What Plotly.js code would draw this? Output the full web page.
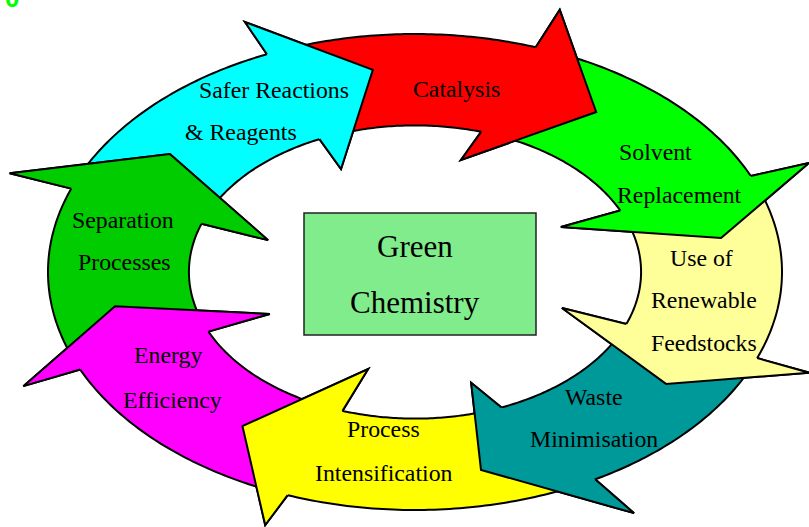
<!DOCTYPE html>
<html>
<head>
<meta charset="utf-8">
<script src="https://cdn.plot.ly/plotly-3.0.1.min.js"></script>
<style>html,body{margin:0;padding:0;background:#fff;}#chart{width:809px;height:527px;}</style>
</head>
<body>
<div id="chart"></div>
<script>
// ---- content ----
const steps = ["Safer Reactions & Reagents", "Catalysis", "Solvent Replacement", "Use of Renewable Feedstocks",
               "Waste Minimisation", "Process Intensification", "Energy Efficiency", "Separation Processes"];
const stepLines = [["Safer Reactions", "& Reagents"], ["Catalysis"], ["Solvent", "Replacement"],
                   ["Use of", "Renewable", "Feedstocks"], ["Waste", "Minimisation"],
                   ["Process", "Intensification"], ["Energy", "Efficiency"], ["Separation", "Processes"]];
const centreLines = ["Green", "Chemistry"];
const colours = ["#00FFFF", "#FF0000", "#00FF00", "#FFFF99", "#009999", "#FFFF00", "#FF00FF", "#00CC00"];

// ---- geometry of the cycle (angles in degrees, clockwise from 12 o'clock) ----
const baseOutA = [336.2, 19.2, 66.2, 111.2, 150.6, 200.3, 245.8, 290.5];
const baseInA  = [335.0, 17.0, 65.2, 110.8, 157.5, 198.7, 246.0, 289.2];
const barbOutA = [336.2, 19.7, 66.9, 111.5, 149.5, 201.0, 245.8, 290.6];
const barbInA  = [335.0, 14.9, 64.6, 110.7, 161.8, 197.4, 246.0, 288.5];
const tipA     = [352.3, 36.3, 80.3, 124.5, 167.8, 216.0, 260.0, 306.6];
const barbOutS = [1.148, 1.17, 1.167, 1.155, 1.176, 1.139, 1.17, 1.18];
const barbInS  = [0.477, 0.487, 0.44, 0.428, 0.49, 0.427, 0.433, 0.422];
const tipS     = [0.857, 0.834, 0.846, 0.83, 0.851, 0.80, 0.83, 0.832];

const CX = 415, CY = 272, RX = 367, RY = 238, INNER = 0.616;

// label line positions (centre x, middle y)
const lineX = [[274, 241], [456], [655, 679], [701, 704, 704], [594, 594], [383, 384], [168, 172], [123, 124]];
const lineY = [[90, 132], [89], [152, 195], [258, 300, 343], [397, 439], [429, 473], [355, 400], [220, 262]];

function pt(t, s) {
  const r = t * Math.PI / 180;
  return [CX + RX * s * Math.sin(r), CY - RY * s * Math.cos(r)];
}
function P(p) { return p[0].toFixed(2) + "," + p[1].toFixed(2); }

const shapes = [];
const heads = [];
const n = steps.length;
for (let i = 0; i < n; i++) {
  const prev = (i + n - 1) % n;
  let sOut = baseOutA[prev] + 1.5, sIn = baseInA[prev] + 1.5;
  if (sOut > baseOutA[i]) sOut -= 360;
  if (sIn > baseInA[i]) sIn -= 360;
  let d = "M" + P(pt(sOut, 1));
  const N = 60;
  for (let k = 1; k <= N; k++) d += " L" + P(pt(sOut + (baseOutA[i] - sOut) * k / N, 1));
  let h = "M" + P(pt(baseOutA[i], 1));
  const headPart = " L" + P(pt(barbOutA[i], barbOutS[i])) +
                   " L" + P(pt(tipA[i], tipS[i])) +
                   " L" + P(pt(barbInA[i], barbInS[i])) +
                   " L" + P(pt(baseInA[i], INNER));
  d += headPart;
  h += headPart;
  for (let k = 1; k <= N; k++) d += " L" + P(pt(baseInA[i] + (sIn - baseInA[i]) * k / N, INNER));
  d += " Z";
  shapes.push({type: "path", xref: "x", yref: "y", path: d, fillcolor: colours[i],
               line: {color: "#000", width: 2}, layer: "above"});
  heads.push({type: "path", xref: "x", yref: "y", path: h, fillcolor: colours[i],
              line: {color: "#000", width: 2}, layer: "above"});
}
// centre box
shapes.push({type: "rect", xref: "x", yref: "y", x0: 304, x1: 536, y0: 213, y1: 335,
             fillcolor: "rgb(128,236,140)", line: {color: "#222", width: 1.5}, layer: "above"});
const allShapes = shapes.concat(heads);

const font = {family: "'Liberation Serif', 'Times New Roman', serif", size: 23.8, color: "#000"};
const annotations = [];
for (let i = 0; i < n; i++) {
  stepLines[i].forEach((txt, j) => {
    annotations.push({x: lineX[i][j], y: lineY[i][j], xref: "x", yref: "y", text: txt,
                      showarrow: false, xanchor: "center", yanchor: "middle", font: font});
  });
}
const centreY = [246.5, 302.5];
centreLines.forEach((txt, j) => {
  annotations.push({x: 415, y: centreY[j], xref: "x", yref: "y", text: txt, showarrow: false,
                    xanchor: "center", yanchor: "middle",
                    font: {family: font.family, size: 31, color: "#000"}});
});
// stray green glyph at the top-left corner (cut off by the top edge, as in the original)
annotations.push({x: 11.5, y: 15, xref: "x", yref: "y", text: "<b>0</b>", showarrow: false,
                  xanchor: "center", yanchor: "bottom",
                  font: {family: "'Liberation Sans', Arial, sans-serif", size: 26, color: "#00FF00"}});

const layout = {
  width: 809, height: 527,
  margin: {l: 0, r: 0, t: 0, b: 0, pad: 0},
  paper_bgcolor: "#fff", plot_bgcolor: "#fff",
  showlegend: false,
  xaxis: {range: [0, 809], visible: false, fixedrange: true},
  yaxis: {range: [527, 0], visible: false, fixedrange: true},
  shapes: allShapes,
  annotations: annotations
};
Plotly.newPlot("chart", [{x: [], y: [], type: "scatter", mode: "markers", hoverinfo: "skip"}], layout,
               {staticPlot: true, displayModeBar: false});
</script>
</body>
</html>
